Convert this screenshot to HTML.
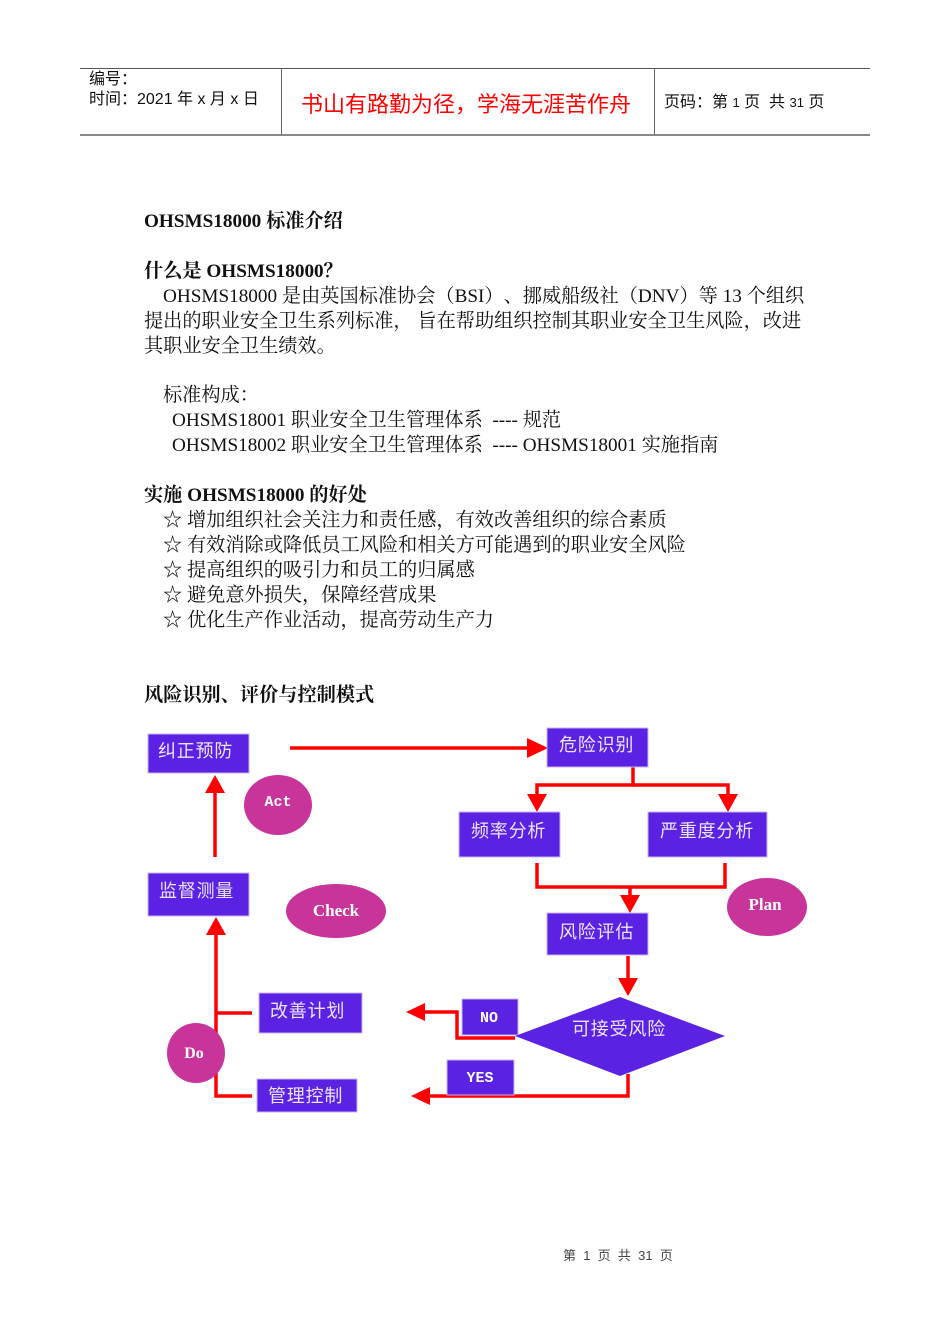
<!DOCTYPE html>
<html><head><meta charset="utf-8">
<style>
html,body{margin:0;padding:0;background:#fff;}
body{width:950px;height:1344px;position:relative;overflow:hidden;text-spacing-trim:space-all;}
.t{position:absolute;white-space:pre;font-family:"Liberation Serif","Noto Serif CJK SC",serif;font-size:19.2px;line-height:26px;color:#111;text-spacing-trim:space-all;}
.b{font-weight:bold;}
.h{position:absolute;white-space:pre;font-family:"Liberation Sans","Noto Sans CJK SC",sans-serif;color:#111;text-spacing-trim:space-all;}
.ln{position:absolute;}
svg{position:absolute;left:0;top:0;}
</style></head><body>

<!-- header -->
<div class="ln" style="left:80px;top:68px;width:790px;height:1px;background:#555;"></div>
<div class="ln" style="left:80px;top:134px;width:790px;height:2px;background:#888;"></div>
<div class="ln" style="left:281px;top:68px;width:1px;height:67px;background:#666;"></div>
<div class="ln" style="left:654px;top:68px;width:1px;height:67px;background:#666;"></div>
<div class="h" style="left:89px;top:70px;font-size:16px;line-height:20px;">编号：</div>
<div class="h" style="left:89px;top:90px;font-size:16px;line-height:20px;">时间：2021 年 x 月 x 日</div>
<div class="h" style="left:301px;top:90px;font-size:22px;line-height:30px;color:#f00;">书山有路勤为径，学海无涯苦作舟</div>
<div class="h" style="left:664px;top:93px;font-size:16px;line-height:20px;">页码：第 <span style="font-size:13px">1</span> 页  共 <span style="font-size:13px">31</span> 页</div>

<!-- body text -->
<div class="t b" style="left:144px;top:209px;">OHSMS18000 标准介绍</div>
<div class="t b" style="left:144px;top:259px;">什么是 OHSMS18000？</div>
<div class="t" style="left:163px;top:284px;">OHSMS18000 是由英国标准协会（BSI）、挪威船级社（DNV）等 13 个组织</div>
<div class="t" style="left:144px;top:309px;">提出的职业安全卫生系列标准， 旨在帮助组织控制其职业安全卫生风险，改进</div>
<div class="t" style="left:144px;top:334px;">其职业安全卫生绩效。</div>
<div class="t" style="left:163px;top:383px;">标准构成：</div>
<div class="t" style="left:172px;top:408px;">OHSMS18001 职业安全卫生管理体系  ---- 规范</div>
<div class="t" style="left:172px;top:433px;">OHSMS18002 职业安全卫生管理体系  ---- OHSMS18001 实施指南</div>
<div class="t b" style="left:144px;top:483px;">实施 OHSMS18000 的好处</div>
<div class="t" style="left:163px;top:508px;">☆ 增加组织社会关注力和责任感，有效改善组织的综合素质</div>
<div class="t" style="left:163px;top:533px;">☆ 有效消除或降低员工风险和相关方可能遇到的职业安全风险</div>
<div class="t" style="left:163px;top:558px;">☆ 提高组织的吸引力和员工的归属感</div>
<div class="t" style="left:163px;top:583px;">☆ 避免意外损失，保障经营成果</div>
<div class="t" style="left:163px;top:608px;">☆ 优化生产作业活动，提高劳动生产力</div>
<div class="t b" style="left:144px;top:683px;">风险识别、评价与控制模式</div>

<!-- diagram -->
<svg width="950" height="1344" viewBox="0 0 950 1344" xmlns="http://www.w3.org/2000/svg">
<g stroke="#ff0000" stroke-width="3.5" fill="none">
  <line x1="290" y1="748" x2="528" y2="748"/>
  <polyline points="633,767 633,785 537,785 537,795"/>
  <polyline points="633,785 728,785 728,795"/>
  <polyline points="537,863 537,887 725,887 725,863"/>
  <line x1="630" y1="887" x2="630" y2="896"/>
  <line x1="628" y1="956" x2="628" y2="979"/>
  <polyline points="515,1038 457,1038 457,1012 424,1012"/>
  <polyline points="628,1074 628,1096 428,1096"/>
  <polyline points="252,1096 216,1096 216,934"/>
  <line x1="216" y1="1013" x2="252" y2="1013"/>
  <line x1="215" y1="857" x2="215" y2="792"/>
</g>
<g fill="#ff0000">
  <polygon points="527,738 548,748 527,758"/>
  <polygon points="527,794 547,794 537,812"/>
  <polygon points="718,794 738,794 728,812"/>
  <polygon points="620,895 640,895 630,913"/>
  <polygon points="618,978 638,978 628,996"/>
  <polygon points="425,1003 425,1021 406,1012"/>
  <polygon points="430,1087 430,1105 411,1096"/>
  <polygon points="206,935 226,935 216,917"/>
  <polygon points="205,793 225,793 215,775"/>
</g>
<g fill="#5b22e3" stroke="#c9b3f5" stroke-width="1">
  <rect x="148" y="734" width="101" height="39"/>
  <rect x="547" y="728" width="101" height="39"/>
  <rect x="459" y="812" width="101" height="45"/>
  <rect x="648" y="812" width="119" height="45"/>
  <rect x="148" y="873" width="101" height="43"/>
  <rect x="547" y="913" width="101" height="42"/>
  <rect x="259" y="993" width="103" height="40"/>
  <rect x="257" y="1079" width="100" height="33"/>
  <rect x="462" y="999" width="56" height="36"/>
  <rect x="447" y="1060" width="67" height="35"/>
  <polygon points="620,997 725,1036 620,1076 515,1036" stroke="none"/>
</g>
<g fill="#c8349a">
  <ellipse cx="278" cy="805" rx="34" ry="30"/>
  <ellipse cx="336" cy="911" rx="50" ry="27"/>
  <ellipse cx="767" cy="907" rx="40" ry="29"/>
  <ellipse cx="196" cy="1053" rx="29" ry="30"/>
</g>
<g fill="#ece4ff" font-family="Liberation Sans, Noto Sans CJK SC, sans-serif" font-size="18" letter-spacing="0.8">
  <text x="158" y="757">纠正预防</text>
  <text x="559" y="751">危险识别</text>
  <text x="471" y="837">频率分析</text>
  <text x="660" y="837">严重度分析</text>
  <text x="159" y="897">监督测量</text>
  <text x="559" y="938">风险评估</text>
  <text x="270" y="1017">改善计划</text>
  <text x="268" y="1102">管理控制</text>
  <text x="572" y="1035">可接受风险</text>
</g>
<g fill="#fff" font-weight="bold">
  <text x="278" y="806" text-anchor="middle" font-family="Liberation Mono, monospace" font-size="15">Act</text>
  <text x="336" y="916" text-anchor="middle" font-family="Liberation Serif, serif" font-size="17">Check</text>
  <text x="765" y="910" text-anchor="middle" font-family="Liberation Serif, serif" font-size="17">Plan</text>
  <text x="194" y="1058" text-anchor="middle" font-family="Liberation Serif, serif" font-size="16">Do</text>
  <text x="489" y="1022" text-anchor="middle" font-family="Liberation Mono, monospace" font-size="15">NO</text>
  <text x="480" y="1082" text-anchor="middle" font-family="Liberation Mono, monospace" font-size="15">YES</text>
</g>
</svg>

<!-- footer -->
<div class="h" style="left:563px;top:1247px;font-size:13px;line-height:18px;color:#444;">第  1  页  共  31  页</div>

</body></html>
